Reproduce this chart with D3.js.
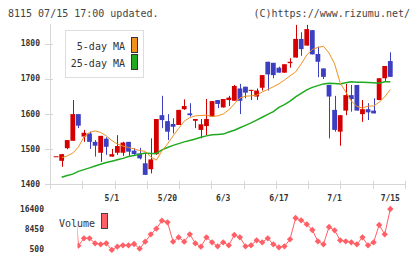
<!DOCTYPE html>
<html lang="en">
<head>
<meta charset="UTF-8" />
<title>8115 chart</title>
<script src="https://cdnjs.cloudflare.com/ajax/libs/d3/7.8.5/d3.min.js"></script>
<style>
  body { margin: 0; background: #fff; }
  svg text { font-family: "DejaVu Sans Mono", monospace; }
</style>
</head>
<body>
<svg id="chart" width="420" height="259"></svg>
<script>
// daily prices, oldest first
const openP  = [1479,1466,1502,1523,1599,1535,1544,1520,1489,1529,1478,1489,1489,1520,1495,1487,1459,1442,1485,1596,1579,1571,1568,1613,1601,1580,1554,1565,1592,1639,1618,1639,1637,1672,1677,1665,1649,1674,1748,1745,1731,1717,1744,1760,1813,1794,1838,1770,1729,1682,1611,1549,1609,1653,1682,1599,1613,1609,1639,1701,1750];
const highP  = [1479,1485,1525,1639,1599,1554,1549,1525,1537,1533,1500,1539,1520,1520,1502,1503,1487,1530,1585,1651,1599,1587,1611,1641,1630,1585,1585,1642,1636,1639,1642,1651,1682,1685,1677,1668,1672,1710,1748,1745,1734,1741,1758,1853,1832,1853,1838,1791,1729,1682,1651,1596,1685,1682,1682,1639,1630,1644,1701,1736,1775];
const lowP   = [1479,1449,1499,1523,1559,1520,1500,1478,1463,1483,1478,1483,1480,1480,1480,1470,1426,1430,1483,1559,1525,1544,1568,1611,1592,1559,1530,1539,1592,1616,1618,1622,1637,1599,1644,1639,1639,1666,1666,1701,1717,1717,1731,1760,1765,1794,1769,1704,1699,1530,1549,1509,1596,1606,1609,1577,1582,1601,1639,1691,1705];
const closeP = [1479,1485,1525,1599,1566,1546,1520,1509,1537,1506,1485,1508,1518,1492,1485,1473,1426,1470,1585,1582,1549,1563,1611,1622,1596,1585,1570,1585,1636,1628,1642,1646,1679,1637,1660,1668,1666,1710,1712,1710,1717,1741,1748,1813,1784,1841,1769,1748,1705,1649,1554,1596,1653,1642,1609,1613,1604,1601,1701,1736,1705];
const ma5  = [null,1475,1480,1488,1505,1534,1547,1551,1547,1537,1524,1514,1508,1504,1500,1495,1493,1477,1468,1494,1514,1537,1558,1579,1589,1594,1595,1596,1592,1594,1599,1611,1628,1645,1650,1651,1653,1662,1669,1677,1685,1696,1708,1719,1742,1767,1783,1789,1792,1773,1742,1688,1662,1636,1621,1616,1622,1622,1633,1648,1669];
const ma25 = [null,1419,1424,1428,1436,1441,1446,1451,1456,1461,1465,1469,1473,1478,1481,1485,1488,1487,1487,1497,1504,1510,1515,1520,1524,1528,1533,1537,1540,1541,1542,1548,1553,1560,1567,1574,1582,1590,1598,1606,1618,1626,1636,1648,1658,1668,1675,1680,1685,1687,1686,1685,1688,1691,1690,1690,1689,1688,1687,1691,1691];
const volume = [null,null,null,33000,1810,4750,4750,2770,2370,2770,150,1410,1970,1970,2490,620,3400,6340,8570,11750,11110,3400,5150,3400,6340,2770,1410,5150,3160,1570,3160,1970,6070,5150,1570,1970,3960,3160,4750,2370,1180,1570,4360,12820,11910,10320,8050,3560,2370,9250,7920,3960,3560,3160,2370,5150,1970,3160,10040,6340,16400];

const dateLabels = ["5/1","5/20","6/3","6/17","7/1","7/15"];
const dateIndex  = [10,20,30,40,50,60];
const priceTicks = [1400,1500,1600,1700,1800];
const volTicks   = [500,8450,16400];

const svg = d3.select("#chart");
const N = closeP.length;
const axisCol = "#d6d6d6", textCol = "#333";
const upCol = "#d40000", downCol = "#3c40c0";

const x  = d3.scaleLinear().domain([0, N - 1]).range([56.1, 390.3]);
const y  = d3.scaleLinear().domain([1400, 1800]).range([184, 43.5]);
const yv = d3.scaleLinear().domain([500, 16400]).range([249, 209]);
const xGrid = d3.scaleLinear().domain([0, 11]).range([50, 405]);

// header
svg.append("text").attr("x", 8).attr("y", 17).attr("font-size", 10).attr("fill", "#444")
  .text("8115 07/15 17:00 updated.");
svg.append("text").attr("x", 410).attr("y", 17).attr("font-size", 10).attr("fill", "#444")
  .attr("text-anchor", "end").text("(C)https://www.rizumu.net/");

// clip areas
const defs = svg.append("defs");
defs.append("clipPath").attr("id", "plot")
  .append("rect").attr("x", 50.5).attr("y", 24).attr("width", 356).attr("height", 160);
defs.append("clipPath").attr("id", "vplot")
  .append("rect").attr("x", 77.5).attr("y", 200).attr("width", 330).attr("height", 59);

// axes
svg.append("line").attr("x1", 50.5).attr("x2", 50.5).attr("y1", 24).attr("y2", 189)
  .attr("stroke", axisCol);
svg.append("line").attr("x1", 45).attr("x2", 406).attr("y1", 184.5).attr("y2", 184.5)
  .attr("stroke", axisCol);
svg.selectAll(".xg").data(d3.range(12)).enter().append("line")
  .attr("x1", d => Math.round(xGrid(d)) + 0.5).attr("x2", d => Math.round(xGrid(d)) + 0.5)
  .attr("y1", 181).attr("y2", 189).attr("stroke", axisCol);
svg.selectAll(".yt").data(priceTicks).enter().append("line")
  .attr("x1", 45).attr("x2", 53)
  .attr("y1", d => Math.round(y(d)) + 0.5).attr("y2", d => Math.round(y(d)) + 0.5)
  .attr("stroke", axisCol);
svg.selectAll(".yl").data(priceTicks).enter().append("text")
  .attr("x", 40).attr("y", d => y(d)).attr("dy", "0.35em")
  .attr("text-anchor", "end").attr("font-size", 8).attr("font-weight", "bold")
  .attr("fill", textCol).text(d => d);
svg.selectAll(".xl").data(dateIndex).enter().append("text")
  .attr("x", d => x(d)).attr("y", 198.5).attr("dy", "0.35em")
  .attr("text-anchor", "middle").attr("font-size", 8).attr("font-weight", "bold")
  .attr("fill", textCol).text((d, i) => dateLabels[i]);

// candles
const plot = svg.append("g").attr("clip-path", "url(#plot)");
const idx = d3.range(N);
plot.selectAll(".wick").data(idx).enter().append("line")
  .attr("x1", i => Math.round(x(i)) + 0.5).attr("x2", i => Math.round(x(i)) + 0.5)
  .attr("y1", i => y(highP[i])).attr("y2", i => y(lowP[i]))
  .attr("stroke", i => closeP[i] >= openP[i] ? upCol : downCol);
plot.selectAll(".body").data(idx).enter().append("rect")
  .attr("x", i => x(i) - 2.4).attr("width", 4.8)
  .attr("y", i => y(Math.max(openP[i], closeP[i])))
  .attr("height", i => Math.max(1, Math.abs(y(openP[i]) - y(closeP[i]))))
  .attr("fill", i => closeP[i] >= openP[i] ? upCol : downCol);

// moving averages
const maLine = d3.line().defined(d => d != null).x((d, i) => x(i)).y(d => y(d));
plot.append("path").datum(ma25).attr("d", maLine)
  .attr("fill", "none").attr("stroke", "#1faa1f").attr("stroke-width", 1.5);
plot.append("path").datum(ma5).attr("d", maLine)
  .attr("fill", "none").attr("stroke", "#f0901e").attr("stroke-width", 1);

// legend
const lg = svg.append("g");
lg.append("rect").attr("x", 65.5).attr("y", 30.5).attr("width", 78).attr("height", 47)
  .attr("fill", "#fff").attr("stroke", "#ddd");
lg.append("text").attr("x", 125).attr("y", 49.5).attr("text-anchor", "end")
  .attr("font-size", 10).attr("fill", textCol).text("5-day MA");
lg.append("text").attr("x", 125).attr("y", 66.5).attr("text-anchor", "end")
  .attr("font-size", 10).attr("fill", textCol).text("25-day MA");
lg.append("rect").attr("x", 131.5).attr("y", 37.5).attr("width", 6).attr("height", 15)
  .attr("fill", "#f0901e").attr("stroke", "#333");
lg.append("rect").attr("x", 131.5).attr("y", 54.5).attr("width", 6).attr("height", 15)
  .attr("fill", "#1faa1f").attr("stroke", "#333");

// volume
svg.selectAll(".vl").data(volTicks).enter().append("text")
  .attr("x", 44).attr("y", d => yv(d)).attr("dy", "0.35em")
  .attr("text-anchor", "end").attr("font-size", 8).attr("font-weight", "bold")
  .attr("fill", textCol).text(d => d);
svg.append("text").attr("x", 59).attr("y", 226.5).attr("font-size", 10)
  .attr("fill", textCol).text("Volume");
svg.append("rect").attr("x", 101.5).attr("y", 213.5).attr("width", 6).attr("height", 15)
  .attr("fill", "#ff5f66").attr("stroke", "#444");

const vg = svg.append("g").attr("clip-path", "url(#vplot)");
const volLine = d3.line().defined(d => d != null).x((d, i) => x(i)).y(d => yv(d));
vg.append("path").datum(volume).attr("d", volLine)
  .attr("fill", "none").attr("stroke", "#ff5f66").attr("stroke-width", 1);
vg.selectAll(".vd").data(idx.filter(i => volume[i] != null)).enter().append("path")
  .attr("d", d3.symbol(d3.symbolSquare, 20))
  .attr("transform", i => `translate(${x(i)},${yv(volume[i])}) rotate(45)`)
  .attr("fill", "#ff5f66");
</script>
</body>
</html>
